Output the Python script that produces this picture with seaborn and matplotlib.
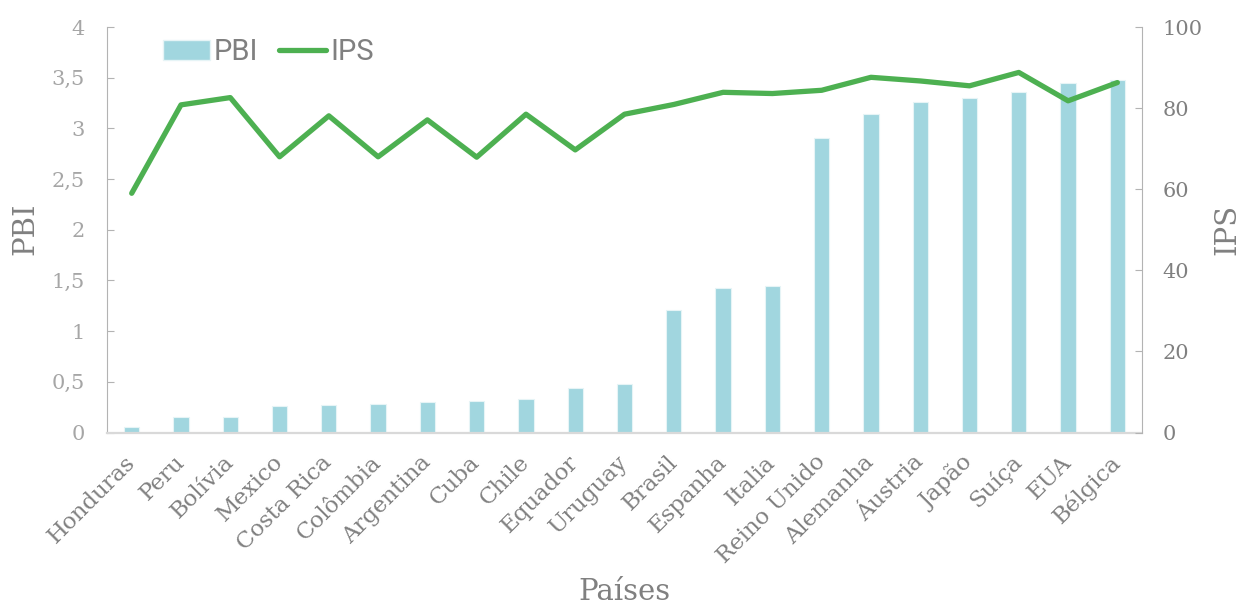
import matplotlib
matplotlib.use('Agg')
import matplotlib.pyplot as plt
from matplotlib.patches import Patch
from matplotlib.lines import Line2D
import seaborn as sns

# dados
paises = ['Honduras', 'Peru', 'Bolívia', 'Mexico', 'Costa Rica', 'Colômbia',
          'Argentina', 'Cuba', 'Chile', 'Equador', 'Uruguay', 'Brasil',
          'Espanha', 'Italia', 'Reino Unido', 'Alemanha', 'Áustria', 'Japão',
          'Suíça', 'EUA', 'Bélgica']
pbi = [0.05, 0.15, 0.15, 0.26, 0.27, 0.28, 0.30, 0.31, 0.33, 0.44, 0.48,
       1.21, 1.43, 1.45, 2.91, 3.14, 3.26, 3.30, 3.36, 3.45, 3.48]
ips = [59.0, 80.8, 82.6, 68.0, 78.1, 68.0, 77.1, 67.9, 78.5, 69.7, 78.5,
       80.9, 83.9, 83.6, 84.4, 87.6, 86.7, 85.5, 88.8, 81.8, 86.3]
pbi_ticks = [0, 0.5, 1, 1.5, 2, 2.5, 3, 3.5, 4]
pbi_ticklabels = ['0', '0,5', '1', '1,5', '2', '2,5', '3', '3,5', '4']
ips_ticks = [0, 20, 40, 60, 80, 100]

COR_BARRA = '#A1D6DF'
COR_LINHA = '#4DB051'

sns.set_style('white')
plt.rcParams['font.family'] = ['DejaVu Serif']

fig = plt.figure(figsize=(12.42, 6.06), dpi=100)
ax = fig.add_axes([0.0862, 0.2863, 0.8333, 0.6691])

sns.barplot(x=paises, y=pbi, color=COR_BARRA, saturation=1, width=0.31,
            edgecolor='#e6f4f6', linewidth=0.8, ax=ax)
ax.set_xlim(-0.5, len(paises) - 0.5)
ax.set_ylim(0, 4)
ax.set_yticks(pbi_ticks)
ax.set_yticklabels(pbi_ticklabels)

ax2 = ax.twinx()
sns.lineplot(x=paises, y=ips, color=COR_LINHA, linewidth=3.8, sort=False,
             ax=ax2, solid_capstyle='round')
ax2.set_ylim(0, 100)
ax2.set_yticks(ips_ticks)

# eixos e ticks
for s in ['top', 'right']:
    ax.spines[s].set_visible(False)
ax.spines['left'].set_color('#b3b3b3')
ax.spines['bottom'].set_color('#d9d9d9')
ax.spines['bottom'].set_linewidth(1.6)
for s in ['top', 'left', 'bottom']:
    ax2.spines[s].set_visible(False)
ax2.spines['right'].set_color('#b3b3b3')

ax.tick_params(axis='y', direction='in', length=5, color='#b3b3b3',
               pad=16, labelsize=15, labelcolor='#a6a6a6')
ax2.tick_params(axis='y', direction='in', length=5, color='#b3b3b3',
                pad=15, labelsize=15, labelcolor='#808080')
ax.tick_params(axis='x', length=0, pad=19, labelsize=16.5, labelcolor='#808080')
for lab in ax.get_xticklabels():
    lab.set_rotation(45)
    lab.set_rotation_mode('anchor')
    lab.set_ha('right')
    lab.set_va('center')

ax.set_xlabel('Países', fontsize=21, color='#808080')
ax.xaxis.set_label_coords(0.5, -0.36)
ax.set_ylabel('PBI', fontsize=21, color='#808080')
ax.yaxis.set_label_coords(-0.065, 0.502)
ax2.set_ylabel('IPS', fontsize=21, color='#808080')
ax2.yaxis.set_label_coords(1.069, 0.502)

handles = [Patch(facecolor=COR_BARRA, edgecolor='#e6f4f6'),
           Line2D([], [], color=COR_LINHA, linewidth=3.8, solid_capstyle='round')]
leg = ax2.legend(handles, ['PBI', 'IPS'], ncol=2, frameon=False,
                 loc='center left', bbox_to_anchor=(0.054, 0.938),
                 borderpad=0, borderaxespad=0, handlelength=1.6,
                 handleheight=0.66, handletextpad=0.15, columnspacing=0.7,
                 prop={'family': 'Roboto', 'size': 21})
for t in leg.get_texts():
    t.set_color('#808080')

fig.savefig('out.png', dpi=100)
